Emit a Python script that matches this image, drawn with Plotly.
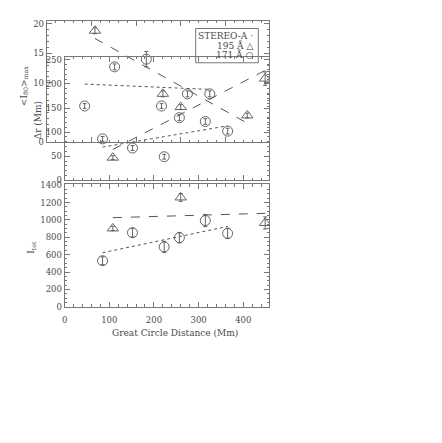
import plotly.graph_objects as go

W, H = 442, 443

# ---------------- data ----------------
dist_171 = [85, 152, 223, 257, 315, 365]
dist_195 = [108, 260, 449]

imax_171 = [6.1, 12.7, 14.0, 6.1, 8.15, 8.15]
imax_171_err = [0.4, 0.5, 1.3, 0.4, 0.5, 0.5]
imax_195 = [18.8, 8.15, 4.5]
imax_195_err = [0.5, 0.5, 0.4]

dr_171 = [86, 67, 49, 130, 122, 102]
dr_171_err = [5, 5, 5, 6, 6, 6]
dr_195 = [47, 152, 211]
dr_195_err = [4, 5, 14]

itot_171 = [530, 853, 689, 796, 993, 845]
itot_171_err = [45, 50, 65, 60, 70, 60]
itot_195 = [902, 1259, 965]
itot_195_err = [25, 45, 70]

fit_x_171 = [85, 365]
fit_x_195 = [108, 449]
imax_fit_171 = [9.8, 8.9]
imax_fit_195 = [17.5, 3.2]
dr_fit_171 = [69, 113]
dr_fit_195 = [64, 228]
itot_fit_171 = [622, 925]
itot_fit_195 = [1026, 1076]

imax_ticks = [0, 10, 15, 20]
legend_lines = ["STEREO-A \u00b7", "195 \u00c5 \u25b3", "171 \u00c5 \u25cb"]

# ---------------- style ----------------
FONT = "DejaVu Serif"
TXT = "#4a4a4a"
AX = "#777777"
MK = "#555555"
TS = 8.5


def px(x):
    return x / W


def py(y):
    return 1 - y / H


fig = go.Figure()

panels = [
    ("x", "y", imax_171, imax_171_err, imax_195, imax_195_err, imax_fit_171, imax_fit_195),
    ("x2", "y2", dr_171, dr_171_err, dr_195, dr_195_err, dr_fit_171, dr_fit_195),
    ("x3", "y3", itot_171, itot_171_err, itot_195, itot_195_err, itot_fit_171, itot_fit_195),
]

for xa, ya, y1, e1, y2, e2, f1, f2 in panels:
    fig.add_trace(go.Scatter(x=fit_x_171, y=f1, mode="lines", xaxis=xa, yaxis=ya,
                             line=dict(color=MK, width=1, dash="dot"), showlegend=False))
    fig.add_trace(go.Scatter(x=fit_x_195, y=f2, mode="lines", xaxis=xa, yaxis=ya,
                             line=dict(color=MK, width=1, dash="dash"), showlegend=False))
    fig.add_trace(go.Scatter(x=dist_171, y=y1, mode="markers", xaxis=xa, yaxis=ya,
                             marker=dict(symbol="circle-open", size=10, color=MK, line=dict(width=0.9)),
                             error_y=dict(type="data", array=e1, color=MK, thickness=0.9, width=2),
                             showlegend=False))
    fig.add_trace(go.Scatter(x=dist_195, y=y2, mode="markers", xaxis=xa, yaxis=ya,
                             marker=dict(symbol="triangle-up-open", size=10, color=MK, line=dict(width=0.9)),
                             error_y=dict(type="data", array=e2, color=MK, thickness=0.9, width=2),
                             showlegend=False))


def axis(**kw):
    d = dict(showline=True, linecolor=AX, linewidth=1, mirror="ticks", ticks="inside",
             ticklen=5, tickcolor=AX, tickwidth=1, showgrid=False, zeroline=False,
             tickfont=dict(family=FONT, size=TS, color=TXT))
    d.update(kw)
    return d


fig.update_layout(
    width=W, height=H, margin=dict(l=0, r=0, t=0, b=0),
    paper_bgcolor="white", plot_bgcolor="rgba(0,0,0,0)",
    showlegend=False,
    xaxis=axis(domain=[px(44), px(268)], range=[0, 498], anchor="y", showticklabels=False,
               dtick=100, minor=dict(ticks="inside", ticklen=2.5, dtick=20, tickcolor=AX)),
    yaxis=axis(domain=[py(141), py(17)], range=[0, 20.5], anchor="x",
               tickvals=imax_ticks,
               minor=dict(ticks="inside", ticklen=2.5, dtick=1, tickcolor=AX)),
    xaxis2=axis(domain=[px(62), px(268)], range=[0, 458], anchor="y2", showticklabels=False,
                dtick=100, minor=dict(ticks="inside", ticklen=2.5, dtick=20, tickcolor=AX)),
    yaxis2=axis(domain=[py(180), py(54)], range=[0, 256], anchor="x2", dtick=50,
                minor=dict(ticks="inside", ticklen=2.5, dtick=10, tickcolor=AX)),
    xaxis3=axis(domain=[px(62), px(268)], range=[0, 458], anchor="y3", dtick=100,
                ticklabelstandoff=5,
                minor=dict(ticks="inside", ticklen=2.5, dtick=20, tickcolor=AX)),
    yaxis3=axis(domain=[py(309), py(184)], range=[0, 1411], anchor="x3", dtick=200,
                minor=dict(ticks="inside", ticklen=2.5, dtick=50, tickcolor=AX)),
)

annots = [
    dict(text="&lt;I<sub>80</sub>&gt;<sub>max</sub>", x=px(21), y=py(84), textangle=-90),
    dict(text="\u0394r (Mm)", x=px(35), y=py(119), textangle=-90),
    dict(text="I<sub>tot</sub>", x=px(29), y=py(248), textangle=-90),
    dict(text="Great Circle Distance (Mm)", x=px(173), y=py(336), textangle=0),
]
for a in annots:
    fig.add_annotation(xref="paper", yref="paper", showarrow=False,
                       xanchor="center", yanchor="middle",
                       font=dict(family=FONT, size=9, color=TXT), **a)

# legend box
fig.add_shape(type="rect", xref="paper", yref="paper",
              x0=px(194), x1=px(257), y0=py(60), y1=py(25),
              line=dict(color=AX, width=1), fillcolor="rgba(0,0,0,0)")
for i, t in enumerate(legend_lines):
    fig.add_annotation(xref="paper", yref="paper", showarrow=False,
                       x=px(254), y=py(33 + 9.5 * i), xanchor="right", yanchor="middle",
                       text=t, font=dict(family=FONT, size=9, color=TXT))

fig.write_html("out.html", config={"displayModeBar": False},
               post_script="document.body.style.margin='0';")
